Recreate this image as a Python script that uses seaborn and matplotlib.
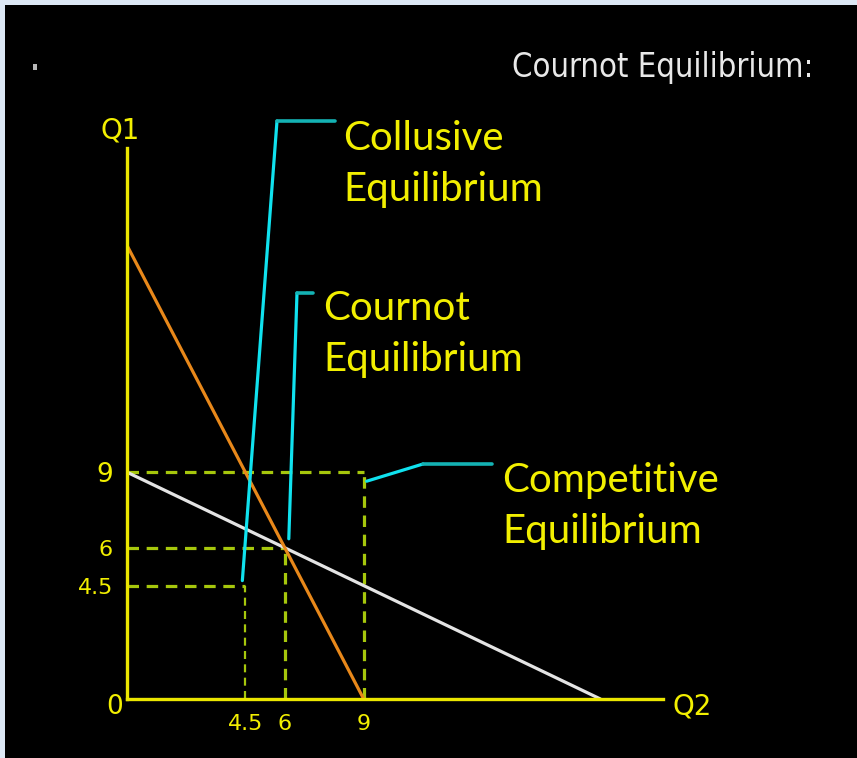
import matplotlib
matplotlib.use("Agg")
import matplotlib.pyplot as plt
import seaborn as sns
import pandas as pd
from matplotlib.lines import Line2D
from matplotlib.patches import Rectangle
from matplotlib import font_manager

sns.set_theme(style="dark")
plt.rcParams['font.family'] = ['DejaVu Sans']

W, H = 857, 758

# Reaction functions, Q2 on the horizontal axis and Q1 on the vertical one
firm1_q2 = [0, 9]
firm1_q1 = [18, 0]
firm2_q2 = [0, 18]
firm2_q1 = [9, 0]

# Output of each firm at the three equilibria
eq_names = ["Collusive", "Cournot", "Competitive"]
eq_q = [4.5, 6, 9]

tick_vals = [4.5, 6, 9]
tick_labels = ["4.5", "6", "9"]

YELLOW = '#ebe600'
TEXT_YELLOW = '#f2ef00'
DASH = '#a6c70c'
CYAN = '#10e2ef'
TEAL = '#14b2b4'


def px(x, y):
    """Pixel position (from the top-left corner) to figure fraction."""
    return x / W, 1 - y / H


fig = plt.figure(figsize=(W / 100, H / 100), dpi=100)
fig.patch.set_facecolor('#dde8f5')
fig.add_artist(Rectangle(px(5, H), (W - 5) / W, (H - 5) / H,
                         transform=fig.transFigure, facecolor='black',
                         edgecolor='none', zorder=-5))
# small bullet mark in the upper left corner
fig.add_artist(Rectangle(px(33, 70), 4 / W, 6 / H, transform=fig.transFigure,
                         facecolor='#b8b8b8', edgecolor='none', zorder=-4))

ax = fig.add_axes([127 / W, 1 - 699 / H, 536 / W, 551 / H])
ax.set_facecolor('none')
ax.set_xlim(0, 536 / 26.3)
ax.set_ylim(0, 551 / 25.2)
ax.grid(False)

# dashed guides to each equilibrium
for q in eq_q:
    lw_v = 1.6 if q == 4.5 else 2.3
    ax.plot([0, q], [q, q], color=DASH, lw=2.3, dashes=(3.6, 2.4), zorder=2)
    ax.plot([q, q], [0, q], color=DASH, lw=lw_v, dashes=(3.6, 2.4), zorder=2)

# reaction curves
df1 = pd.DataFrame({"Q2": firm1_q2, "Q1": firm1_q1})
df2 = pd.DataFrame({"Q2": firm2_q2, "Q1": firm2_q1})
sns.lineplot(data=df2, x="Q2", y="Q1", color='#e4e4e4', lw=2.3, ax=ax, zorder=3)
sns.lineplot(data=df1, x="Q2", y="Q1", color='#e8881a', lw=2.3, ax=ax, zorder=4)
ax.set_xlabel("")
ax.set_ylabel("")

for s in ['top', 'right']:
    ax.spines[s].set_visible(False)
for s in ['left', 'bottom']:
    ax.spines[s].set_color(YELLOW)
    ax.spines[s].set_linewidth(2.4)
    ax.spines[s].set_zorder(6)

ax.set_xticks(tick_vals, tick_labels)
ax.set_yticks(tick_vals, tick_labels)
ax.tick_params(length=0, colors=TEXT_YELLOW, labelsize=16)
ax.tick_params(axis='x', pad=11)
ax.tick_params(axis='y', pad=10)
ax.get_yticklabels()[2].set_fontsize(19)
ax.annotate("0", xy=(0, 0), xytext=(-12, -8), textcoords='offset pixels',
            ha='center', va='center', color=TEXT_YELLOW, fontsize=19)

fig.text(*px(120, 130), "Q1", ha='center', va='center', color=TEXT_YELLOW,
         fontsize=20)
fig.text(*px(692, 706), "Q2", ha='center', va='center', color=TEXT_YELLOW,
         fontsize=20)

# heading in a condensed face when one is available
cond = font_manager.FontProperties(family='DejaVu Sans', stretch='condensed')
if 'Condensed' in font_manager.findfont(cond, fallback_to_default=True):
    head_font = dict(family='DejaVu Sans', stretch='condensed', fontsize=23.5)
else:
    head_font = dict(family='Liberation Sans', fontsize=23)
fig.text(*px(512, 77), "Cournot Equilibrium:", ha='left', va='baseline',
         color='#e8e8e8', **head_font)

# call-out leaders from each equilibrium point to its label
tip_nudge = [(-3, -5), (4, -9), (3, 9)]
knees = [(277, 121), (297, 293), (423, 464)]
ends = [(335, 121), (313, 293), (492, 464)]
label_pos = [(343, 150), (323, 320), (502, 492)]
line_gap = 51
to_fig = fig.transFigure.inverted()

for name, q, nudge, knee, end, lp in zip(eq_names, eq_q, tip_nudge, knees,
                                          ends, label_pos):
    dx, dy = ax.transData.transform((q, q))
    tip = to_fig.transform((dx + nudge[0], dy - nudge[1]))
    kx, ky = px(*knee)
    ex, ey = px(*end)
    fig.add_artist(Line2D([tip[0], kx], [tip[1], ky], color=CYAN, lw=2.3,
                          transform=fig.transFigure, zorder=8))
    fig.add_artist(Line2D([kx, ex], [ky, ey], color=TEAL, lw=2.6,
                          transform=fig.transFigure, zorder=8))
    for i, word in enumerate([name, "Equilibrium"]):
        fig.text(*px(lp[0], lp[1] + i * line_gap), word, ha='left',
                 va='baseline', color=TEXT_YELLOW, fontsize=29,
                 family=['Lato', 'DejaVu Sans'])

fig.savefig("out.png", dpi=100, facecolor=fig.get_facecolor())
